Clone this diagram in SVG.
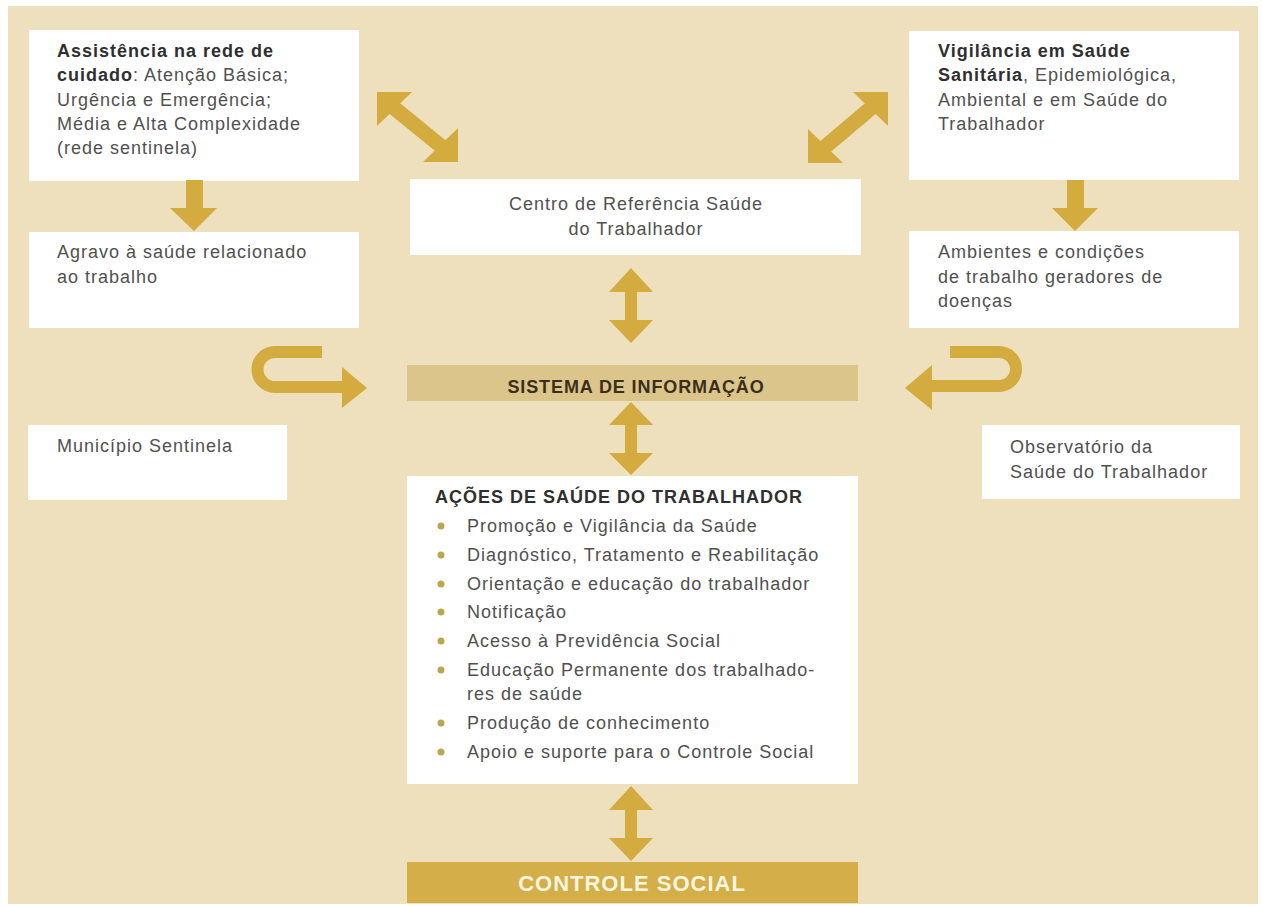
<svg xmlns="http://www.w3.org/2000/svg" width="1262" height="907" viewBox="0 0 1262 907">
<style>
.box{fill:#ffffff}
.t{font-family:"Liberation Sans",Arial,sans-serif;font-size:18px;letter-spacing:1px;fill:#505050}
.b{font-weight:bold;fill:#2f2f2f}
.arr{fill:#D3AB3F}
.shaft{stroke:#D3AB3F;fill:none}
.dot{fill:#B8A74E}
</style>
<rect x="0" y="0" width="1262" height="907" fill="#ffffff"/>
<rect x="8" y="6" width="1250" height="898" fill="#EEDFBD"/>

<g id="assistencia">
<rect class="box" x="29" y="30" width="330" height="151"/>
<text class="t" x="57" y="57"><tspan class="b">Assistência na rede de</tspan></text>
<text class="t" x="57" y="81"><tspan class="b">cuidado</tspan>: Atenção Básica;</text>
<text class="t" x="57" y="106">Urgência e Emergência;</text>
<text class="t" x="57" y="130">Média e Alta Complexidade</text>
<text class="t" x="57" y="154">(rede sentinela)</text>
</g>

<g id="agravo">
<rect class="box" x="29" y="232" width="330" height="96"/>
<text class="t" x="57" y="258">Agravo à saúde relacionado</text>
<text class="t" x="57" y="283">ao trabalho</text>
</g>

<g id="vigilancia">
<rect class="box" x="909" y="31" width="330" height="149"/>
<text class="t" x="938" y="57"><tspan class="b">Vigilância em Saúde</tspan></text>
<text class="t" x="938" y="81"><tspan class="b">Sanitária</tspan>, Epidemiológica,</text>
<text class="t" x="938" y="106">Ambiental e em Saúde do</text>
<text class="t" x="938" y="130">Trabalhador</text>
</g>

<g id="ambientes">
<rect class="box" x="909" y="231" width="330" height="97"/>
<text class="t" x="938" y="258">Ambientes e condições</text>
<text class="t" x="938" y="283">de trabalho geradores de</text>
<text class="t" x="938" y="307">doenças</text>
</g>

<g id="centro">
<rect class="box" x="410" y="179" width="451" height="76"/>
<text class="t" x="636" y="210" text-anchor="middle">Centro de Referência Saúde</text>
<text class="t" x="636" y="235" text-anchor="middle">do Trabalhador</text>
</g>

<g id="sistema">
<rect x="407" y="365" width="451" height="36" fill="#DCC58A"/>
<text class="t b" x="636" y="393" text-anchor="middle" style="letter-spacing:0.9px;fill:#3a2f1c">SISTEMA DE INFORMAÇÃO</text>
</g>

<g id="municipio">
<rect class="box" x="28" y="425" width="259" height="75"/>
<text class="t" x="57" y="452">Município Sentinela</text>
</g>

<g id="observatorio">
<rect class="box" x="982" y="425" width="258" height="74"/>
<text class="t" x="1010" y="453">Observatório da</text>
<text class="t" x="1010" y="478">Saúde do Trabalhador</text>
</g>

<g id="acoes">
<rect class="box" x="407" y="476" width="451" height="308"/>
<text class="t b" x="435" y="503">AÇÕES DE SAÚDE DO TRABALHADOR</text>
<circle class="dot" cx="441" cy="526" r="3.5"/>
<text class="t" x="467" y="532">Promoção e Vigilância da Saúde</text>
<circle class="dot" cx="441" cy="555" r="3.5"/>
<text class="t" x="467" y="561">Diagnóstico, Tratamento e Reabilitação</text>
<circle class="dot" cx="441" cy="584" r="3.5"/>
<text class="t" x="467" y="590">Orientação e educação do trabalhador</text>
<circle class="dot" cx="441" cy="612" r="3.5"/>
<text class="t" x="467" y="618">Notificação</text>
<circle class="dot" cx="441" cy="641" r="3.5"/>
<text class="t" x="467" y="647">Acesso à Previdência Social</text>
<circle class="dot" cx="441" cy="670" r="3.5"/>
<text class="t" x="467" y="676">Educação Permanente dos trabalhado-</text>
<text class="t" x="467" y="700">res de saúde</text>
<circle class="dot" cx="441" cy="723" r="3.5"/>
<text class="t" x="467" y="729">Produção de conhecimento</text>
<circle class="dot" cx="441" cy="752" r="3.5"/>
<text class="t" x="467" y="758">Apoio e suporte para o Controle Social</text>
</g>

<g id="controle">
<rect x="407" y="862" width="451" height="41" fill="#D4AE48"/>
<text class="t b" x="632" y="891" text-anchor="middle" style="font-size:22px;fill:#FCF5E0">CONTROLE SOCIAL</text>
</g>

<g id="connectors">
<!-- down arrows -->
<rect class="arr" x="186" y="180" width="17" height="29"/>
<polygon class="arr" points="170,208 217,208 194,231"/>
<rect class="arr" x="1067" y="180" width="17" height="29"/>
<polygon class="arr" points="1052,208 1098,208 1075,231"/>
<!-- diagonal top-left -->
<line class="shaft" x1="388" y1="103" x2="447" y2="151" stroke-width="15"/>
<polygon class="arr" points="377,92 412,92 377,126"/>
<polygon class="arr" points="458,162 423,162 458,128"/>
<!-- diagonal top-right -->
<line class="shaft" x1="877" y1="103" x2="819" y2="152" stroke-width="15"/>
<polygon class="arr" points="888,92 853,92 888,126"/>
<polygon class="arr" points="808,163 843,163 808,129"/>
<!-- vertical double arrows -->
<rect class="arr" x="625" y="290" width="12" height="32"/>
<polygon class="arr" points="631,268 653,292 609,292"/>
<polygon class="arr" points="609,320 653,320 631,343"/>
<rect class="arr" x="625" y="423" width="12" height="32"/>
<polygon class="arr" points="631,402 653,425 609,425"/>
<polygon class="arr" points="609,453 653,453 631,475"/>
<rect class="arr" x="625" y="808" width="12" height="32"/>
<polygon class="arr" points="631,786 653,810 609,810"/>
<polygon class="arr" points="609,838 653,838 631,861"/>
<!-- curved arrows -->
<path class="shaft" d="M322,352 L275,352 A17.5,17.5 0 0 0 275,387 L344,387" stroke-width="12"/>
<polygon class="arr" points="342,367 367,388 342,408"/>
<path class="shaft" d="M950,352 L999,352 A17,17 0 0 1 999,386 L930,386" stroke-width="12"/>
<polygon class="arr" points="932,365 905,388 932,410"/>
</g>
</svg>
